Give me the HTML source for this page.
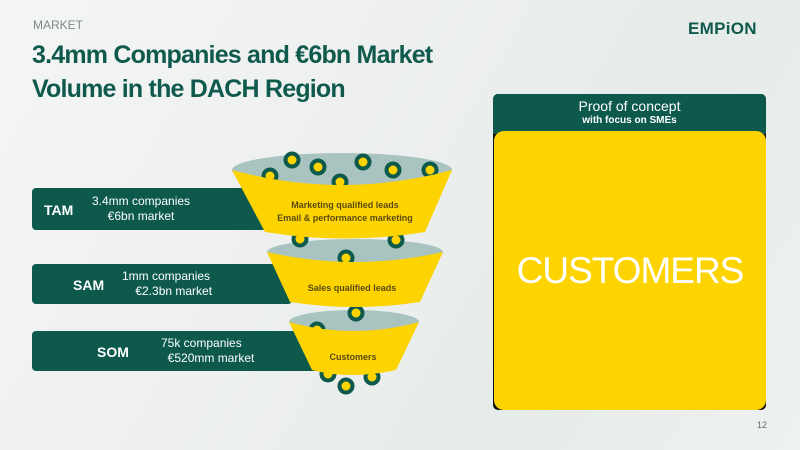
<!DOCTYPE html>
<html><head><meta charset="utf-8"><style>
body{margin:0;width:800px;height:450px;overflow:hidden;font-family:"Liberation Sans",sans-serif;
background:linear-gradient(120deg,#f4f5f5 0%,#eef0f0 40%,#e6ecea 70%,#eef1f1 100%);position:relative}
.a{position:absolute}
.bar{position:absolute;left:32px;background:#0d5a4d;border-radius:4px;color:#fff;font-weight:bold}
</style></head><body>
<div class="a" style="left:33px;top:18px;font-size:12px;color:#7d8a88">MARKET</div>
<div class="a" style="left:32px;top:38px;font-size:25px;font-weight:bold;color:#0f5a4d;line-height:34px;letter-spacing:-0.8px">3.4mm Companies and €6bn Market<br>Volume in the DACH Region</div>
<div class="a" style="left:688px;top:19px;font-size:17px;font-weight:bold;color:#0f5a4d;letter-spacing:0.3px">EMPiON</div>

<div class="bar" style="top:188px;width:250px;height:42px"><span class="a" style="left:12px;top:14px;font-size:14px">TAM</span><span class="a" style="left:60px;top:6px;font-size:12px;font-weight:normal;line-height:15px;text-align:center">3.4mm companies<br>€6bn market</span></div>
<div class="bar" style="top:264px;width:260px;height:40px"><span class="a" style="left:41px;top:13px;font-size:14px">SAM</span><span class="a" style="left:90px;top:5px;font-size:12px;font-weight:normal;line-height:15px">1mm companies<br>&nbsp;&nbsp;&nbsp;&nbsp;€2.3bn market</span></div>
<div class="bar" style="top:331px;width:290px;height:40px"><span class="a" style="left:65px;top:13px;font-size:14px">SOM</span><span class="a" style="left:129px;top:5px;font-size:12px;font-weight:normal;line-height:15px">75k companies<br>&nbsp;&nbsp;€520mm market</span></div>

<svg class="a" style="left:0;top:0" width="800" height="450">
<defs><g id="r"><circle r="6.5" fill="#fdd300" stroke="#0d5a4d" stroke-width="4"/></g></defs>
<ellipse cx="342" cy="170" rx="110" ry="17" fill="#a9c4c0"/>
<use href="#r" x="292" y="160"/><use href="#r" x="318" y="167"/><use href="#r" x="363" y="162"/><use href="#r" x="393" y="170"/><use href="#r" x="430" y="170"/><use href="#r" x="340" y="182"/><use href="#r" x="270" y="176"/>
<ellipse cx="355" cy="252" rx="88" ry="13" fill="#a9c4c0"/>
<use href="#r" x="300" y="239"/><use href="#r" x="396" y="240"/>
<path d="M232,170 Q342,200 452,170 L425,232 Q345,245 265,232 Z" fill="#fdd300"/>
<use href="#r" x="346" y="258"/>
<ellipse cx="354" cy="322" rx="65" ry="12" fill="#a9c4c0"/>
<use href="#r" x="356" y="313"/>
<path d="M267,252 Q355,272 443,252 L420,302 Q355,312 290,302 Z" fill="#fdd300"/>
<use href="#r" x="317" y="330"/>
<use href="#r" x="328" y="374"/><use href="#r" x="372" y="377"/>
<path d="M289,322 Q354,340 419,322 L396,370 Q350,380 312,370 Z" fill="#fdd300"/>
<use href="#r" x="346" y="386"/>
<text x="345" y="208" font-size="9" font-weight="bold" fill="#5a4a10" text-anchor="middle" font-family="Liberation Sans">Marketing qualified leads</text>
<text x="345" y="221" font-size="9" font-weight="bold" fill="#5a4a10" text-anchor="middle" font-family="Liberation Sans">Email &amp; performance marketing</text>
<text x="352" y="291" font-size="9" font-weight="bold" fill="#5a4a10" text-anchor="middle" font-family="Liberation Sans">Sales qualified leads</text>
<text x="353" y="360" font-size="9" font-weight="bold" fill="#5a4a10" text-anchor="middle" font-family="Liberation Sans">Customers</text>
</svg>

<div class="a" style="left:493px;top:94px;width:273px;height:316px;background:#111;border-radius:5px"></div>
<div class="a" style="left:493px;top:94px;width:273px;height:40px;background:#0d5a4d;border-radius:5px 5px 0 0;color:#fff;text-align:center">
<div style="font-size:14px;margin-top:4px">Proof of concept</div><div style="font-size:10px;font-weight:bold;margin-top:1px">with focus on SMEs</div></div>
<div class="a" style="left:494px;top:131px;width:272px;height:279px;background:#fdd300;border-radius:10px;color:#fff;text-align:center;font-size:37px;letter-spacing:-1px;line-height:279px">CUSTOMERS</div>
<div class="a" style="left:757px;top:420px;font-size:9px;color:#666">12</div>
</body></html>
